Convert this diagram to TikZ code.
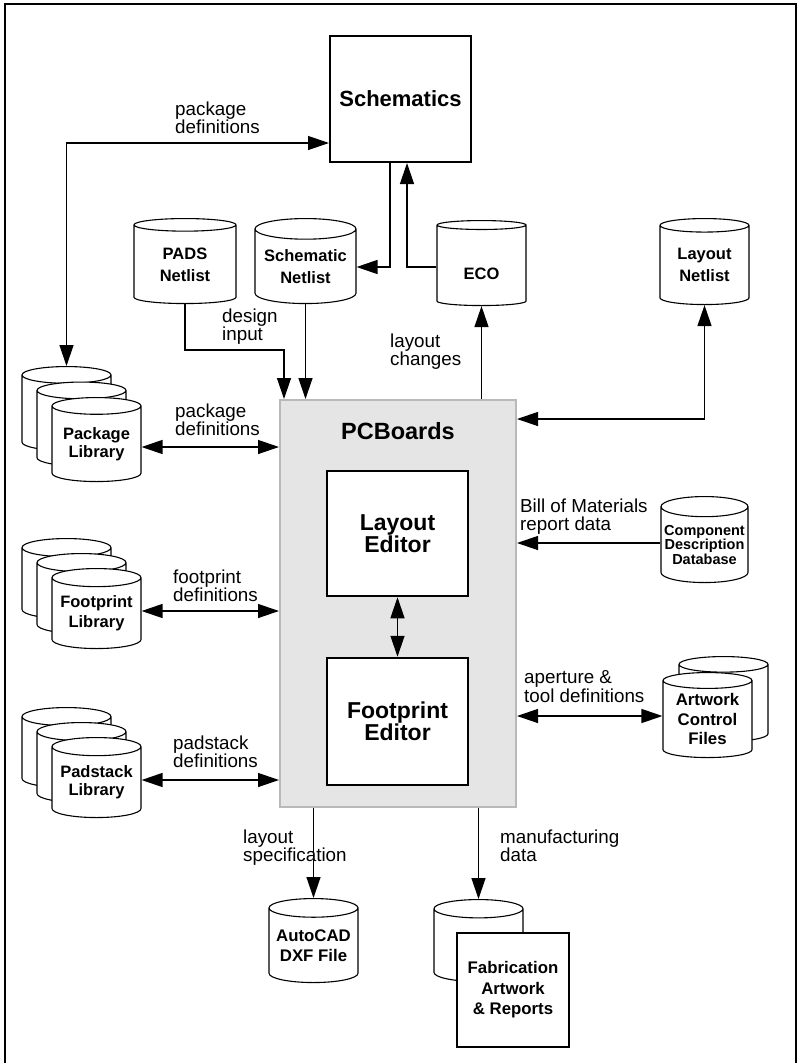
\documentclass[tikz,border=0pt]{standalone}
\usepackage{fontspec}
\setmainfont{Liberation Sans}
\usetikzlibrary{shapes.geometric,arrows.meta,positioning}

\tikzset{
  db/.style={cylinder, shape border rotate=90, aspect=0.25, draw, fill=white,
    line width=1.1pt, minimum width=89pt, minimum height=85pt, inner sep=0pt,
    anchor=north, align=center, font=\bfseries\fontsize{16.5}{17.7}\selectfont,
    execute at begin node={\rule{0pt}{28pt}}},
  box/.style={draw, fill=white, line width=2pt, minimum width=141pt, align=center},
  lbl/.style={inner sep=0pt, align=left, anchor=north west,
    font=\fontsize{18.8}{18.5}\selectfont},
  arr/.style={line width=1.3pt, -{Triangle[length=21pt,width=14pt]}},
  dbl/.style={line width=1.3pt, {Triangle[length=21pt,width=14pt]}-{Triangle[length=21pt,width=14pt]}},
}

\begin{document}
\begin{tikzpicture}[x=1pt,y=-1pt]
\useasboundingbox (0,0) rectangle (799,1063);
\draw[line width=2pt] (5,1063) -- (5,4) -- (796,4) -- (796,1063);

% main blocks
\node[box, minimum height=126pt, font=\bfseries\fontsize{22}{24}\selectfont] (schem) at (400.5,99) {Schematics};
\node[draw=gray!55, fill=gray!20, line width=2pt, minimum width=236pt, minimum height=407pt,
  label={[anchor=north, inner sep=0pt, yshift=-23pt, font=\bfseries\fontsize{23.5}{24}\selectfont]north:PCBoards}] (pcb) at (398,603.5) {};
\node[box, line width=2.5pt, minimum height=125pt, font=\bfseries\fontsize{23}{20}\selectfont] (layed) at (397.5,533.5) {Layout\\Editor};
\node[box, line width=2.5pt, minimum height=127pt, font=\bfseries\fontsize{23}{20}\selectfont] (fped) at (397.5,721.5) {Footprint\\Editor};

% netlists
\node[db, minimum width=102pt, font=\bfseries\fontsize{16.5}{22}\selectfont] (pads) at (185,218) {PADS\\Netlist};
\node[db, minimum width=101pt, font=\bfseries\fontsize{16.5}{22}\selectfont] (schnet) at (305.5,218) {Schematic\\Netlist};
\node[db] (eco) at (481.5,220) {ECO};
\node[db, minimum height=86pt, font=\bfseries\fontsize{16.5}{22}\selectfont] (laynet) at (704.5,218) {Layout\\Netlist};
\node[db, minimum width=87pt, minimum height=86pt, font=\bfseries\fontsize{14.5}{14.5}\selectfont] (comp) at (704.5,496) {Component\\Description\\Database};

% libraries
\node[db, minimum height=84pt] (pkgA) at (66.5,366) {\phantom{Package}};
\node[db, minimum height=84pt] (pkgB) at (81.5,381.5) {\phantom{Package}};
\node[db, minimum height=84pt] (pkg) at (96.5,397) {Package\\Library};
\node[db, minimum height=80pt] (fpA) at (66.5,538) {\phantom{Footprint}};
\node[db, minimum height=80pt] (fpB) at (81.5,553) {\phantom{Footprint}};
\node[db, minimum height=80pt, font=\bfseries\fontsize{16.5}{19.5}\selectfont] (fp) at (96.5,568) {Footprint\\Library};
\node[db, minimum height=80pt] (padA) at (66.5,707) {\phantom{Padstack}};
\node[db, minimum height=80pt] (padB) at (81.5,722) {\phantom{Padstack}};
\node[db, minimum height=80pt, font=\bfseries\fontsize{16.5}{18.5}\selectfont] (pad) at (96.5,737) {Padstack\\Library};

% outputs
\node[db] (artB) at (723.5,656) {\phantom{Artwork}};
\node[db, font=\bfseries\fontsize{16.8}{19.5}\selectfont] (art) at (707.5,672) {Artwork\\Control\\Files};
\node[db, minimum height=84pt, font=\bfseries\fontsize{16.8}{20}\selectfont] (cad) at (313.5,898) {AutoCAD\\DXF File};
\node[db, minimum height=82pt] (fabdb) at (478.5,899) {\phantom{AutoCAD}};
\node[box, line width=1.5pt, minimum width=112pt, minimum height=114pt, font=\bfseries\fontsize{16.8}{20.5}\selectfont] (fab) at (513,990) {Fabrication\\Artwork\\\& Reports};

% connectors
\draw[dbl] (pkgA.north) |- (schem.west |- 0,143);
\draw[arr] (schem.south -| 390,0) |- (schnet.east |- 0,267);
\draw[arr] (eco.west |- 0,267) -| (schem.south -| 407,0);
\draw[arr] (pads.south) -- ++(0,46) -| ([xshift=5pt]pcb.north west);
\draw[arr] (schnet.south) -- (schnet.south |- pcb.north);
\draw[arr] (pcb.north -| eco.south) -- (eco.south);
\draw[dbl] (laynet.south) |- (pcb.east |- 0,419);
\draw[arr] (comp.west |- 0,543) -- (pcb.east |- 0,543);
\draw[dbl] (pcb.east |- 0,716) -- (art.west |- 0,716);
\draw[dbl] (layed) -- (fped);
\draw[dbl] (pkg.east |- 0,447) -- (pcb.west |- 0,447);
\draw[dbl] (fp.east |- 0,611) -- (pcb.west |- 0,611);
\draw[dbl] (pad.east |- 0,780) -- (pcb.west |- 0,780);
\draw[arr] (pcb.south -| cad.north) -- (cad.north);
\draw[arr] (pcb.south -| fabdb.north) -- (fabdb.north);

% labels
\node[lbl] (lschem) at (175,101.5) {package\\definitions};
\node[lbl] (ldesign) at (222,308.5) {design\\input};
\node[lbl] (lchanges) at (390,333.5) {layout\\changes};
\node[lbl] (lpkg) at (175,403.5) {package\\definitions};
\node[lbl] (lbom) at (520,498.5) {Bill of Materials\\report data};
\node[lbl] (lfp) at (173,569.5) {footprint\\definitions};
\node[lbl] (lart) at (524,670.5) {aperture \&\\tool definitions};
\node[lbl] (lpad) at (173,735.5) {padstack\\definitions};
\node[lbl] (lspec) at (243,829.5) {layout\\specification};
\node[lbl] (lmfg) at (500,829.5) {manufacturing\\data};
\end{tikzpicture}
\end{document}
